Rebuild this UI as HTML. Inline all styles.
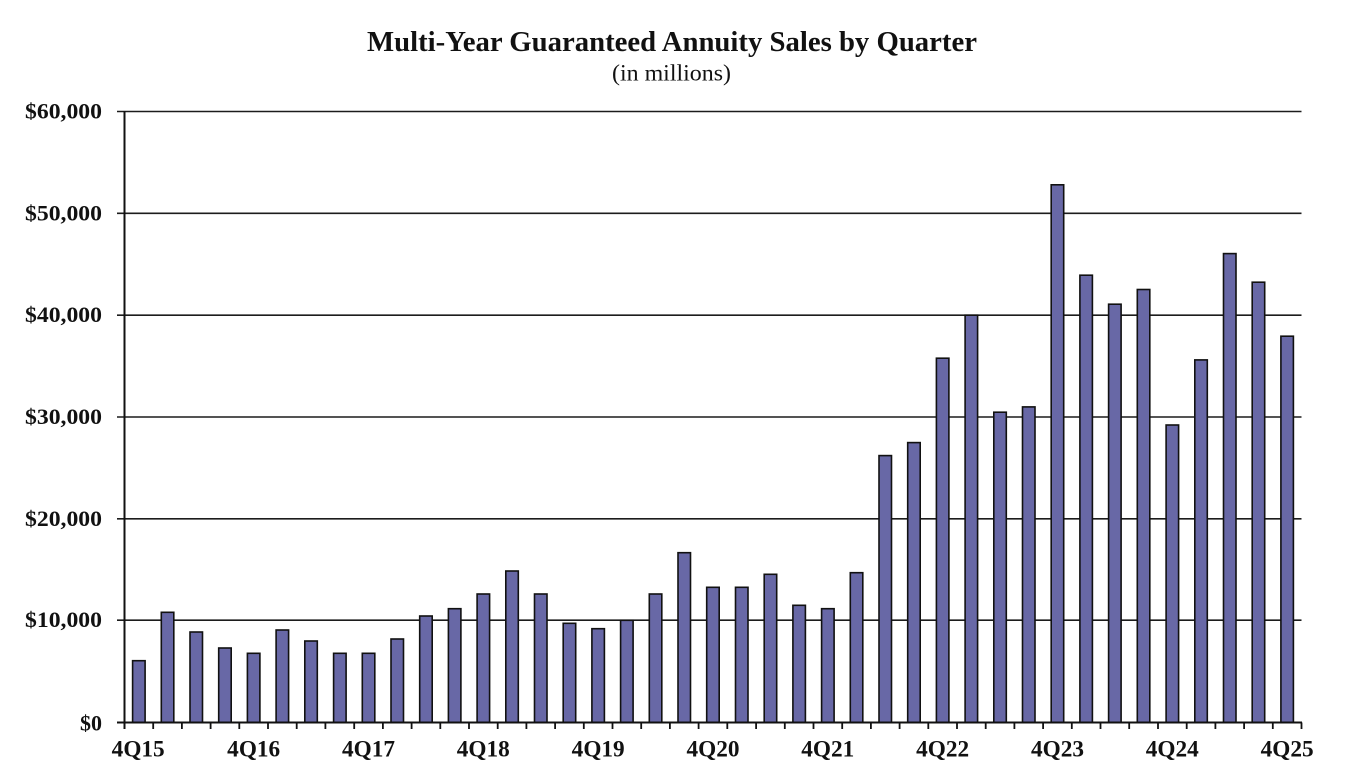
<!DOCTYPE html>
<html>
<head>
<meta charset="utf-8">
<style>
html,body{margin:0;padding:0;background:#fff;}
svg{display:block;}
text{font-family:"Liberation Serif","Times New Roman",serif;fill:#111;}
</style>
</head>
<body>
<svg width="1354" height="780" viewBox="0 0 1354 780" xmlns="http://www.w3.org/2000/svg">
<rect x="0" y="0" width="1354" height="780" fill="#fff"/>
<text x="672" y="51" font-size="28.5" font-weight="bold" text-anchor="middle" textLength="610" lengthAdjust="spacingAndGlyphs">Multi-Year Guaranteed Annuity Sales by Quarter</text>
<text x="671.5" y="80.5" font-size="23" text-anchor="middle" textLength="119" lengthAdjust="spacingAndGlyphs">(in millions)</text>

<g stroke="#1c1c1c" stroke-width="1.6">
<line x1="117" y1="111.5" x2="1301.5" y2="111.5"/>
<line x1="117" y1="213.3" x2="1301.5" y2="213.3"/>
<line x1="117" y1="315.2" x2="1301.5" y2="315.2"/>
<line x1="117" y1="417.0" x2="1301.5" y2="417.0"/>
<line x1="117" y1="518.8" x2="1301.5" y2="518.8"/>
<line x1="117" y1="620.2" x2="1301.5" y2="620.2"/>
</g>

<g fill="#6868a6" stroke="#111" stroke-width="1.6">
<rect x="132.6" y="660.7" width="12.5" height="61.8"/>
<rect x="161.3" y="612.3" width="12.5" height="110.2"/>
<rect x="190.0" y="632.0" width="12.5" height="90.5"/>
<rect x="218.7" y="648.0" width="12.5" height="74.5"/>
<rect x="247.4" y="653.3" width="12.5" height="69.2"/>
<rect x="276.1" y="630.0" width="12.5" height="92.5"/>
<rect x="304.8" y="641.0" width="12.5" height="81.5"/>
<rect x="333.6" y="653.3" width="12.5" height="69.2"/>
<rect x="362.3" y="653.3" width="12.5" height="69.2"/>
<rect x="391.0" y="639.0" width="12.5" height="83.5"/>
<rect x="419.7" y="616.0" width="12.5" height="106.5"/>
<rect x="448.4" y="608.7" width="12.5" height="113.8"/>
<rect x="477.1" y="594.0" width="12.5" height="128.5"/>
<rect x="505.8" y="571.0" width="12.5" height="151.5"/>
<rect x="534.5" y="594.0" width="12.5" height="128.5"/>
<rect x="563.2" y="623.3" width="12.5" height="99.2"/>
<rect x="591.9" y="628.7" width="12.5" height="93.8"/>
<rect x="620.6" y="620.3" width="12.5" height="102.2"/>
<rect x="649.3" y="594.0" width="12.5" height="128.5"/>
<rect x="678.0" y="552.7" width="12.5" height="169.8"/>
<rect x="706.7" y="587.3" width="12.5" height="135.2"/>
<rect x="735.5" y="587.3" width="12.5" height="135.2"/>
<rect x="764.2" y="574.3" width="12.5" height="148.2"/>
<rect x="792.9" y="605.3" width="12.5" height="117.2"/>
<rect x="821.6" y="608.7" width="12.5" height="113.8"/>
<rect x="850.3" y="572.7" width="12.5" height="149.8"/>
<rect x="879.0" y="455.6" width="12.5" height="266.9"/>
<rect x="907.7" y="442.6" width="12.5" height="279.9"/>
<rect x="936.4" y="358.2" width="12.5" height="364.3"/>
<rect x="965.1" y="315.2" width="12.5" height="407.3"/>
<rect x="993.8" y="412.2" width="12.5" height="310.3"/>
<rect x="1022.5" y="406.9" width="12.5" height="315.6"/>
<rect x="1051.2" y="184.8" width="12.5" height="537.7"/>
<rect x="1079.9" y="275.2" width="12.5" height="447.3"/>
<rect x="1108.6" y="304.2" width="12.5" height="418.3"/>
<rect x="1137.3" y="289.5" width="12.5" height="433.0"/>
<rect x="1166.1" y="425.0" width="12.5" height="297.5"/>
<rect x="1194.8" y="359.9" width="12.5" height="362.6"/>
<rect x="1223.5" y="253.6" width="12.5" height="468.9"/>
<rect x="1252.2" y="282.2" width="12.5" height="440.3"/>
<rect x="1280.9" y="336.2" width="12.5" height="386.3"/>
</g>

<g stroke="#111" stroke-width="2">
<line x1="124.5" y1="111" x2="124.5" y2="729"/>
<line x1="117" y1="722.5" x2="1302" y2="722.5"/>
</g>
<g stroke="#111" stroke-width="1.8">
<line x1="153.2" y1="722.5" x2="153.2" y2="729"/>
<line x1="181.9" y1="722.5" x2="181.9" y2="729"/>
<line x1="210.6" y1="722.5" x2="210.6" y2="729"/>
<line x1="239.3" y1="722.5" x2="239.3" y2="729"/>
<line x1="268.0" y1="722.5" x2="268.0" y2="729"/>
<line x1="296.7" y1="722.5" x2="296.7" y2="729"/>
<line x1="325.4" y1="722.5" x2="325.4" y2="729"/>
<line x1="354.2" y1="722.5" x2="354.2" y2="729"/>
<line x1="382.9" y1="722.5" x2="382.9" y2="729"/>
<line x1="411.6" y1="722.5" x2="411.6" y2="729"/>
<line x1="440.3" y1="722.5" x2="440.3" y2="729"/>
<line x1="469.0" y1="722.5" x2="469.0" y2="729"/>
<line x1="497.7" y1="722.5" x2="497.7" y2="729"/>
<line x1="526.4" y1="722.5" x2="526.4" y2="729"/>
<line x1="555.1" y1="722.5" x2="555.1" y2="729"/>
<line x1="583.8" y1="722.5" x2="583.8" y2="729"/>
<line x1="612.5" y1="722.5" x2="612.5" y2="729"/>
<line x1="641.2" y1="722.5" x2="641.2" y2="729"/>
<line x1="669.9" y1="722.5" x2="669.9" y2="729"/>
<line x1="698.6" y1="722.5" x2="698.6" y2="729"/>
<line x1="727.3" y1="722.5" x2="727.3" y2="729"/>
<line x1="756.1" y1="722.5" x2="756.1" y2="729"/>
<line x1="784.8" y1="722.5" x2="784.8" y2="729"/>
<line x1="813.5" y1="722.5" x2="813.5" y2="729"/>
<line x1="842.2" y1="722.5" x2="842.2" y2="729"/>
<line x1="870.9" y1="722.5" x2="870.9" y2="729"/>
<line x1="899.6" y1="722.5" x2="899.6" y2="729"/>
<line x1="928.3" y1="722.5" x2="928.3" y2="729"/>
<line x1="957.0" y1="722.5" x2="957.0" y2="729"/>
<line x1="985.7" y1="722.5" x2="985.7" y2="729"/>
<line x1="1014.4" y1="722.5" x2="1014.4" y2="729"/>
<line x1="1043.1" y1="722.5" x2="1043.1" y2="729"/>
<line x1="1071.8" y1="722.5" x2="1071.8" y2="729"/>
<line x1="1100.5" y1="722.5" x2="1100.5" y2="729"/>
<line x1="1129.2" y1="722.5" x2="1129.2" y2="729"/>
<line x1="1158.0" y1="722.5" x2="1158.0" y2="729"/>
<line x1="1186.7" y1="722.5" x2="1186.7" y2="729"/>
<line x1="1215.4" y1="722.5" x2="1215.4" y2="729"/>
<line x1="1244.1" y1="722.5" x2="1244.1" y2="729"/>
<line x1="1272.8" y1="722.5" x2="1272.8" y2="729"/>
<line x1="1301.5" y1="722.5" x2="1301.5" y2="729"/>
</g>

<g font-size="22" font-weight="bold" text-anchor="end">
<text x="102" y="118.5" textLength="77" lengthAdjust="spacingAndGlyphs">$60,000</text>
<text x="102" y="220.3" textLength="77" lengthAdjust="spacingAndGlyphs">$50,000</text>
<text x="102" y="322.2" textLength="77" lengthAdjust="spacingAndGlyphs">$40,000</text>
<text x="102" y="424.0" textLength="77" lengthAdjust="spacingAndGlyphs">$30,000</text>
<text x="102" y="525.8" textLength="77" lengthAdjust="spacingAndGlyphs">$20,000</text>
<text x="102" y="627.2" textLength="77" lengthAdjust="spacingAndGlyphs">$10,000</text>
<text x="102" y="730.5" textLength="22" lengthAdjust="spacingAndGlyphs">$0</text>
</g>

<g font-size="23" font-weight="bold" text-anchor="middle">
<text x="138.2" y="756.5" textLength="53" lengthAdjust="spacingAndGlyphs">4Q15</text>
<text x="253.7" y="756.5" textLength="53" lengthAdjust="spacingAndGlyphs">4Q16</text>
<text x="368.5" y="756.5" textLength="53" lengthAdjust="spacingAndGlyphs">4Q17</text>
<text x="483.3" y="756.5" textLength="53" lengthAdjust="spacingAndGlyphs">4Q18</text>
<text x="598.2" y="756.5" textLength="53" lengthAdjust="spacingAndGlyphs">4Q19</text>
<text x="713.0" y="756.5" textLength="53" lengthAdjust="spacingAndGlyphs">4Q20</text>
<text x="827.8" y="756.5" textLength="53" lengthAdjust="spacingAndGlyphs">4Q21</text>
<text x="942.6" y="756.5" textLength="53" lengthAdjust="spacingAndGlyphs">4Q22</text>
<text x="1057.5" y="756.5" textLength="53" lengthAdjust="spacingAndGlyphs">4Q23</text>
<text x="1172.3" y="756.5" textLength="53" lengthAdjust="spacingAndGlyphs">4Q24</text>
<text x="1287.1" y="756.5" textLength="53" lengthAdjust="spacingAndGlyphs">4Q25</text>
</g>
</svg>
</body>
</html>
